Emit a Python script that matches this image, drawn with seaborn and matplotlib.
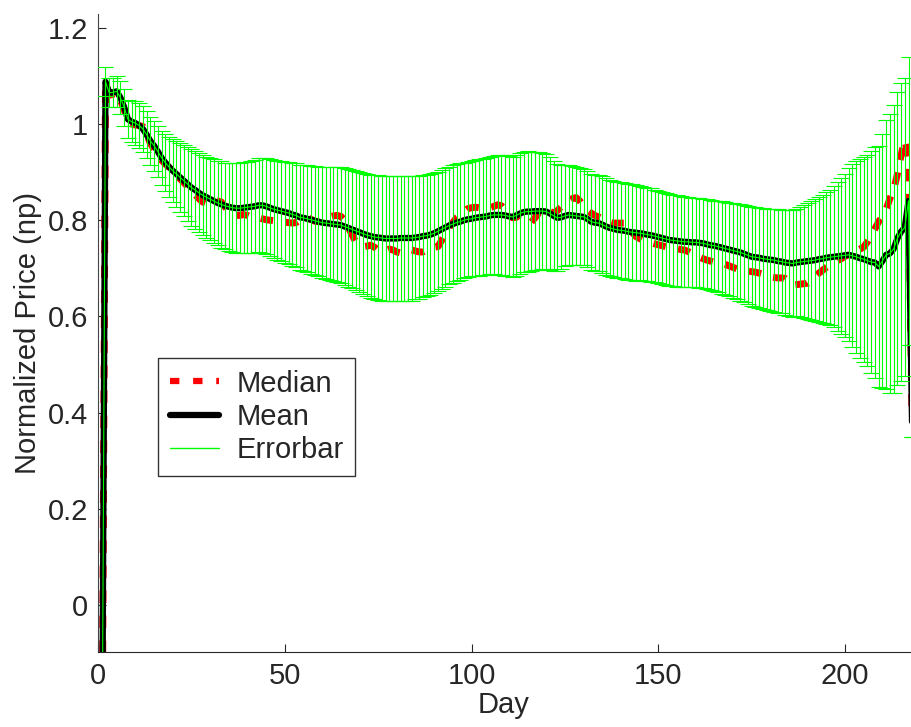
import numpy as np
import pandas as pd
import matplotlib
matplotlib.use("Agg")
import matplotlib.pyplot as plt
from matplotlib.lines import Line2D
import seaborn as sns

# daily values, day 0 .. 218
days = list(range(219))

mean_price = [
    -1.0, -0.5, 1.088, 1.065, 1.066, 1.068, 1.055, 1.035, 1.01, 1.005,
    1.002, 0.997, 0.99, 0.978, 0.965, 0.955, 0.943, 0.93, 0.92, 0.911,
    0.903, 0.896, 0.889, 0.882, 0.875, 0.868, 0.863, 0.857, 0.852, 0.848,
    0.844, 0.84, 0.836, 0.833, 0.83, 0.828, 0.826, 0.825, 0.825, 0.826,
    0.827, 0.828, 0.829, 0.831, 0.831, 0.829, 0.826, 0.823, 0.821, 0.819,
    0.817, 0.815, 0.812, 0.81, 0.806, 0.805, 0.803, 0.801, 0.799, 0.797,
    0.795, 0.794, 0.793, 0.792, 0.791, 0.79, 0.787, 0.784, 0.781, 0.778,
    0.775, 0.772, 0.769, 0.767, 0.765, 0.764, 0.763, 0.762, 0.762, 0.762,
    0.762, 0.763, 0.763, 0.763, 0.763, 0.764, 0.765, 0.767, 0.768, 0.77,
    0.773, 0.777, 0.781, 0.785, 0.789, 0.792, 0.795, 0.797, 0.8, 0.802,
    0.803, 0.805, 0.806, 0.807, 0.808, 0.81, 0.811, 0.811, 0.811, 0.81,
    0.808, 0.807, 0.81, 0.814, 0.817, 0.818, 0.818, 0.819, 0.819, 0.819,
    0.818, 0.814, 0.809, 0.805, 0.806, 0.809, 0.811, 0.81, 0.809, 0.808,
    0.807, 0.803, 0.797, 0.795, 0.794, 0.791, 0.787, 0.784, 0.782, 0.78,
    0.779, 0.778, 0.776, 0.775, 0.774, 0.773, 0.772, 0.77, 0.769, 0.767,
    0.765, 0.763, 0.761, 0.759, 0.758, 0.757, 0.756, 0.755, 0.755, 0.754,
    0.754, 0.753, 0.752, 0.75, 0.748, 0.747, 0.745, 0.743, 0.741, 0.739,
    0.737, 0.735, 0.733, 0.73, 0.727, 0.724, 0.723, 0.722, 0.72, 0.719,
    0.718, 0.717, 0.715, 0.714, 0.712, 0.711, 0.71, 0.712, 0.713, 0.714,
    0.715, 0.716, 0.717, 0.719, 0.72, 0.722, 0.723, 0.724, 0.725, 0.726,
    0.727, 0.728, 0.726, 0.724, 0.721, 0.719, 0.716, 0.713, 0.712, 0.704,
    0.715, 0.728, 0.731, 0.74, 0.762, 0.776, 0.785, 0.84, 0.35,
]

median_price = [
    -1.0, -0.5, 1.085, 1.06, 1.062, 1.065, 1.05, 1.03, 1.005, 1.0,
    0.998, 0.997, 0.995, 0.98, 0.96, 0.948, 0.935, 0.925, 0.917, 0.91,
    0.9, 0.893, 0.886, 0.878, 0.87, 0.862, 0.853, 0.845, 0.838, 0.835,
    0.837, 0.84, 0.84, 0.838, 0.828, 0.818, 0.812, 0.81, 0.81, 0.812,
    0.81, 0.807, 0.806, 0.805, 0.803, 0.801, 0.8, 0.799, 0.798, 0.797,
    0.796, 0.795, 0.794, 0.795, 0.8, 0.805, 0.806, 0.802, 0.798, 0.797,
    0.8, 0.805, 0.807, 0.809, 0.81, 0.808, 0.8, 0.785, 0.77, 0.755,
    0.748, 0.745, 0.746, 0.748, 0.744, 0.738, 0.735, 0.737, 0.74, 0.738,
    0.734, 0.732, 0.734, 0.737, 0.738, 0.736, 0.734, 0.734, 0.738, 0.742,
    0.744, 0.745, 0.758, 0.773, 0.785, 0.795, 0.805, 0.81, 0.818, 0.824,
    0.826, 0.827, 0.826, 0.825, 0.825, 0.826, 0.829, 0.832, 0.83, 0.822,
    0.812, 0.805, 0.806, 0.812, 0.81, 0.802, 0.796, 0.805, 0.815, 0.821,
    0.822, 0.818, 0.815, 0.82, 0.828, 0.834, 0.84, 0.845, 0.847, 0.84,
    0.828, 0.821, 0.815, 0.81, 0.807, 0.803, 0.8, 0.796, 0.794, 0.794,
    0.794, 0.794, 0.786, 0.775, 0.766, 0.762, 0.758, 0.755, 0.753, 0.751,
    0.749, 0.747, 0.745, 0.744, 0.743, 0.741, 0.739, 0.738, 0.735, 0.731,
    0.727, 0.723, 0.72, 0.717, 0.715, 0.713, 0.712, 0.711, 0.708, 0.705,
    0.702, 0.699, 0.697, 0.695, 0.694, 0.693, 0.692, 0.69, 0.688, 0.685,
    0.682, 0.681, 0.68, 0.68, 0.679, 0.672, 0.665, 0.666, 0.667, 0.668,
    0.669, 0.675, 0.683, 0.69, 0.696, 0.702, 0.707, 0.711, 0.716, 0.72,
    0.725, 0.728, 0.732, 0.736, 0.74, 0.744, 0.755, 0.768, 0.782, 0.797,
    0.807, 0.822, 0.845, 0.862, 0.895, 0.935, 0.967, 0.93, 0.35,
]

std_price = [
    0.3, 0.3, 0.03, 0.03, 0.03, 0.032, 0.035, 0.038, 0.04, 0.042,
    0.045, 0.046, 0.048, 0.049, 0.05, 0.052, 0.054, 0.056, 0.059, 0.062,
    0.065, 0.068, 0.071, 0.074, 0.077, 0.08, 0.081, 0.082, 0.083, 0.084,
    0.085, 0.087, 0.088, 0.09, 0.09, 0.091, 0.092, 0.093, 0.094, 0.095,
    0.095, 0.096, 0.097, 0.098, 0.099, 0.1, 0.101, 0.102, 0.103, 0.104,
    0.105, 0.106, 0.107, 0.108, 0.109, 0.11, 0.111, 0.112, 0.113, 0.114,
    0.115, 0.116, 0.117, 0.118, 0.119, 0.12, 0.121, 0.122, 0.123, 0.124,
    0.125, 0.126, 0.127, 0.128, 0.129, 0.13, 0.13, 0.13, 0.13, 0.13,
    0.13, 0.13, 0.13, 0.13, 0.13, 0.128, 0.128, 0.127, 0.126, 0.126,
    0.125, 0.124, 0.124, 0.123, 0.122, 0.122, 0.121, 0.121, 0.12, 0.12,
    0.12, 0.12, 0.121, 0.121, 0.122, 0.122, 0.123, 0.124, 0.124, 0.125,
    0.125, 0.125, 0.125, 0.125, 0.125, 0.125, 0.124, 0.123, 0.122, 0.121,
    0.12, 0.117, 0.114, 0.111, 0.108, 0.105, 0.104, 0.103, 0.102, 0.101,
    0.1, 0.1, 0.1, 0.1, 0.1, 0.1, 0.1, 0.1, 0.1, 0.1,
    0.1, 0.1, 0.1, 0.1, 0.1, 0.098, 0.098, 0.097, 0.097, 0.096,
    0.096, 0.096, 0.095, 0.095, 0.095, 0.095, 0.094, 0.094, 0.093, 0.093,
    0.093, 0.093, 0.093, 0.094, 0.094, 0.094, 0.095, 0.096, 0.097, 0.097,
    0.098, 0.099, 0.1, 0.101, 0.102, 0.103, 0.104, 0.104, 0.105, 0.105,
    0.106, 0.107, 0.108, 0.108, 0.109, 0.11, 0.111, 0.112, 0.114, 0.117,
    0.12, 0.124, 0.127, 0.13, 0.133, 0.137, 0.14, 0.147, 0.155, 0.162,
    0.17, 0.18, 0.19, 0.2, 0.207, 0.213, 0.22, 0.23, 0.24, 0.25,
    0.265, 0.28, 0.29, 0.3, 0.305, 0.31, 0.31, 0.3, 0.0,
]

df = pd.DataFrame({"day": days, "mean": mean_price,
                   "median": median_price, "std": std_price})

sns.set_style("ticks")
plt.rcParams['font.family'] = ['Liberation Sans', 'DejaVu Sans']

fig = plt.figure(figsize=(9.11, 7.27), dpi=100)
ax = fig.add_axes([0.1076, 0.1032, 0.8913, 0.8776])

sns.lineplot(data=df, x="day", y="median", ax=ax, color="red", lw=5,
             linestyle=(0, (1.8, 1.8)), zorder=1.5)
sns.lineplot(data=df, x="day", y="mean", ax=ax, color="black", lw=4.5, zorder=2)
ax.errorbar(df["day"], df["mean"], yerr=df["std"], color="lime", lw=0.8,
            capsize=5.8, capthick=0.8, zorder=3)

ax.set_xlim(0, 217.4)
ax.set_ylim(-0.098, 1.229)
ax.set_xticks([0, 50, 100, 150, 200])
ax.set_yticks([0, 0.2, 0.4, 0.6, 0.8, 1.0, 1.2])
ax.set_yticklabels(["0", "0.2", "0.4", "0.6", "0.8", "1", "1.2"])
ax.tick_params(direction="in", length=6, width=0.8, labelsize=21, pad=7)
ax.set_xlabel("Day", fontsize=21, labelpad=1)
ax.set_ylabel("Normalized Price (np)", fontsize=21, labelpad=4)
sns.despine(ax=ax)
ax.spines["left"].set_color("#444444")

handles = [Line2D([], [], color="red", lw=4.5, linestyle=(0, (1.5, 2.2))),
           Line2D([], [], color="black", lw=4.5),
           Line2D([], [], color="lime", lw=1)]
leg = ax.legend(handles, ["Median", "Mean", "Errorbar"], loc="upper left",
                bbox_to_anchor=(0.074, 0.461), fontsize=21, frameon=True,
                fancybox=False, edgecolor="black", handlelength=1.68,
                handletextpad=0.6, labelspacing=0.18, borderpad=0.4,
                borderaxespad=0)
leg.get_frame().set_linewidth(1.0)

fig.savefig("out.png", dpi=100)
